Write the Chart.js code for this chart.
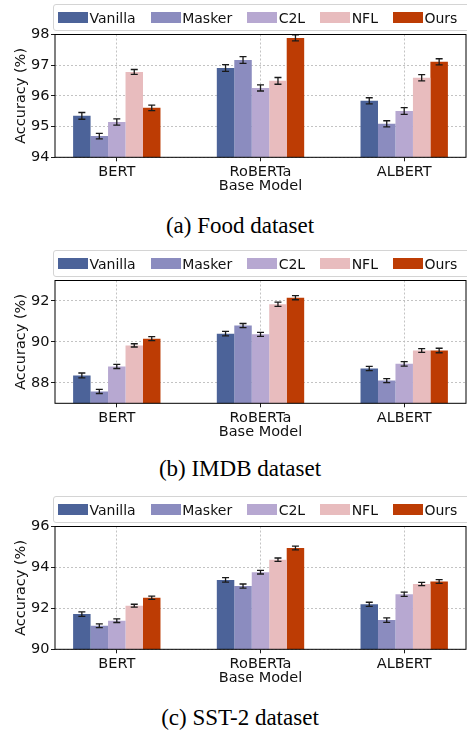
<!DOCTYPE html>
<html>
<head>
<meta charset="utf-8">
<script src="https://cdn.jsdelivr.net/npm/chart.js@4.4.0/dist/chart.umd.min.js"></script>
<style>
  body { margin: 0; background: #fff; font-family: "DejaVu Sans", sans-serif; }
  #page { position: relative; width: 467px; height: 731px; overflow: hidden; }
  .panel { position: absolute; left: 0; width: 467px; height: 246px; }
  .plot { position: absolute; left: 0; top: 0; width: 467px; height: 200px; }
  .legend {
    position: absolute; left: 53px; top: 4px; width: 430px; height: 27px;
    box-sizing: border-box; border: 1px solid #d4d4d4; border-radius: 3px;
    background: rgba(255, 255, 255, 0.8); display: flex; align-items: center;
    padding-left: 4px; font-size: 14px; color: #111;
  }
  .legend .item { display: flex; align-items: center; margin-right: 15px; }
  .legend .swatch { width: 30px; height: 11px; margin-right: 1.5px; }
  .caption {
    position: absolute; left: 0; width: 480px; text-align: center;
    font-family: "Liberation Serif", serif; font-size: 23px; line-height: 23px; color: #000;
  }
</style>
</head>
<body>
<div id="page">
  <div class="panel" style="top:0px">
    <div class="plot"><canvas id="foodChart"></canvas></div>
    <div class="legend" id="foodLegend"></div>
    <div class="caption" style="top:214px">(a) Food dataset</div>
  </div>
  <div class="panel" style="top:246px">
    <div class="plot"><canvas id="imdbChart"></canvas></div>
    <div class="legend" id="imdbLegend"></div>
    <div class="caption" style="top:211px">(b) IMDB dataset</div>
  </div>
  <div class="panel" style="top:492px">
    <div class="plot"><canvas id="sstChart"></canvas></div>
    <div class="legend" id="sstLegend"></div>
    <div class="caption" style="top:214px">(c) SST-2 dataset</div>
  </div>
</div>
<script>
const models = ['BERT', 'RoBERTa', 'ALBERT'];
const methods = ['Vanilla', 'Masker', 'C2L', 'NFL', 'Ours'];
const colors = ['#4c6399', '#8b8cbf', '#b7a8d1', '#e8bcbe', '#bd3c04'];

// one row per method, columns BERT / RoBERTa / ALBERT
const foodAcc = [
  [95.35, 96.91, 95.84],
  [94.69, 97.17, 95.09],
  [95.15, 96.26, 95.51],
  [96.78, 96.49, 96.59],
  [95.61, 97.89, 97.11]
];
const foodErr = [
  [0.11, 0.11, 0.10],
  [0.09, 0.11, 0.10],
  [0.10, 0.10, 0.11],
  [0.08, 0.11, 0.10],
  [0.09, 0.10, 0.10]
];
const foodTicks = [94, 95, 96, 97, 98];
const foodRange = [94, 98];

const imdbAcc = [
  [88.36, 90.40, 88.70],
  [87.58, 90.80, 88.11],
  [88.80, 90.37, 88.93],
  [89.83, 91.84, 89.58],
  [90.16, 92.16, 89.58]
];
const imdbErr = [
  [0.12, 0.11, 0.10],
  [0.10, 0.10, 0.10],
  [0.10, 0.10, 0.11],
  [0.08, 0.10, 0.09],
  [0.10, 0.10, 0.11]
];
const imdbTicks = [88, 90, 92];
const imdbRange = [87, 93];

const sstAcc = [
  [91.72, 93.39, 92.20],
  [91.15, 93.09, 91.43],
  [91.40, 93.77, 92.69],
  [92.13, 94.38, 93.19],
  [92.52, 94.95, 93.31]
];
const sstErr = [
  [0.11, 0.11, 0.10],
  [0.09, 0.10, 0.11],
  [0.09, 0.09, 0.10],
  [0.07, 0.08, 0.08],
  [0.08, 0.09, 0.09]
];
const sstTicks = [90, 92, 94, 96];
const sstRange = [90, 96];

const tickFont = { family: 'DejaVu Sans', size: 14.5 };

const errorBars = {
    id: 'errorBars',
    afterDatasetsDraw(chart) {
        const ctx = chart.ctx;
        const yScale = chart.scales.y;
        ctx.save();
        ctx.strokeStyle = '#1a1a1a';
        ctx.lineWidth = 1.3;
        chart.data.datasets.forEach((ds, i) => {
            chart.getDatasetMeta(i).data.forEach((bar, j) => {
                const v = ds.data[j].y;
                const e = ds.errors[j];
                const top = yScale.getPixelForValue(v + e);
                const bot = yScale.getPixelForValue(v - e);
                ctx.beginPath();
                ctx.moveTo(bar.x, top);
                ctx.lineTo(bar.x, bot);
                ctx.moveTo(bar.x - 3.5, top);
                ctx.lineTo(bar.x + 3.5, top);
                ctx.moveTo(bar.x - 3.5, bot);
                ctx.lineTo(bar.x + 3.5, bot);
                ctx.stroke();
            });
        });
        ctx.restore();
    }
};

const frame = {
    id: 'frame',
    afterDatasetsDraw(chart) {
        const { ctx, chartArea } = chart;
        ctx.save();
        ctx.strokeStyle = '#000';
        ctx.lineWidth = 1;
        ctx.strokeRect(chartArea.left, chartArea.top, chartArea.right - chartArea.left, chartArea.bottom - chartArea.top);
        ctx.restore();
    }
};

function buildLegend(id) {
    const container = document.getElementById(id);
    methods.forEach((m, i) => {
        const el = document.createElement('div');
        el.className = 'item';
        el.innerHTML = `<span class="swatch" style="background:${colors[i]}"></span><span>${m}</span>`;
        container.append(el);
    });
}

function makeChart(id, acc, err, ticks, range) {
    const ctx = document.getElementById(id);

    new Chart(ctx, {
        type: 'bar',
        data: {
            datasets: methods.map((m, i) => ({
                label: m,
                data: acc[i].map((v, j) => ({ x: j, y: v })),
                errors: err[i],
                backgroundColor: colors[i],
                borderWidth: 0,
                categoryPercentage: 0.608,
                barPercentage: 1
            }))
        },
        options: {
            responsive: true,
            maintainAspectRatio: false,
            animation: false,
            layout: { padding: { top: 34.5, right: 1, left: 0, bottom: 0 } },
            plugins: { legend: { display: false }, tooltip: { enabled: false } },
            scales: {
                x: {
                    type: 'linear',
                    min: -0.43,
                    max: 2.43,
                    offset: false,
                    afterBuildTicks: axis => { axis.ticks = models.map((m, i) => ({ value: i })) },
                    afterFit: axis => { axis.height = 42.7 },
                    ticks: { callback: v => models[v], font: tickFont, color: '#111', padding: 2, maxRotation: 0, autoSkip: false },
                    grid: { offset: false, color: '#bdbdbd', lineWidth: 0.9, tickLength: 4, tickColor: '#000', tickWidth: 0.9, tickBorderDash: [] },
                    border: { display: false, dash: [2, 2] },
                    title: { display: true, text: 'Base Model', font: tickFont, color: '#111', padding: { top: 0, bottom: 5 } }
                },
                y: {
                    min: range[0],
                    max: range[1],
                    afterBuildTicks: axis => { axis.ticks = ticks.map(t => ({ value: t })) },
                    afterFit: axis => { axis.width = 55 },
                    ticks: { font: tickFont, color: '#111', padding: 1.5 },
                    grid: { color: '#bdbdbd', lineWidth: 0.9, tickLength: 4, tickColor: '#000', tickWidth: 0.9, tickBorderDash: [] },
                    border: { display: false, dash: [2, 2] },
                    title: { display: true, text: 'Accuracy (%)', font: tickFont, color: '#111', padding: { top: 12.4, bottom: 0 } }
                }
            }
        },
        plugins: [errorBars, frame]
    });
}

buildLegend('foodLegend');
buildLegend('imdbLegend');
buildLegend('sstLegend');

makeChart('foodChart', foodAcc, foodErr, foodTicks, foodRange);
makeChart('imdbChart', imdbAcc, imdbErr, imdbTicks, imdbRange);
makeChart('sstChart', sstAcc, sstErr, sstTicks, sstRange);
</script>
</body>
</html>
